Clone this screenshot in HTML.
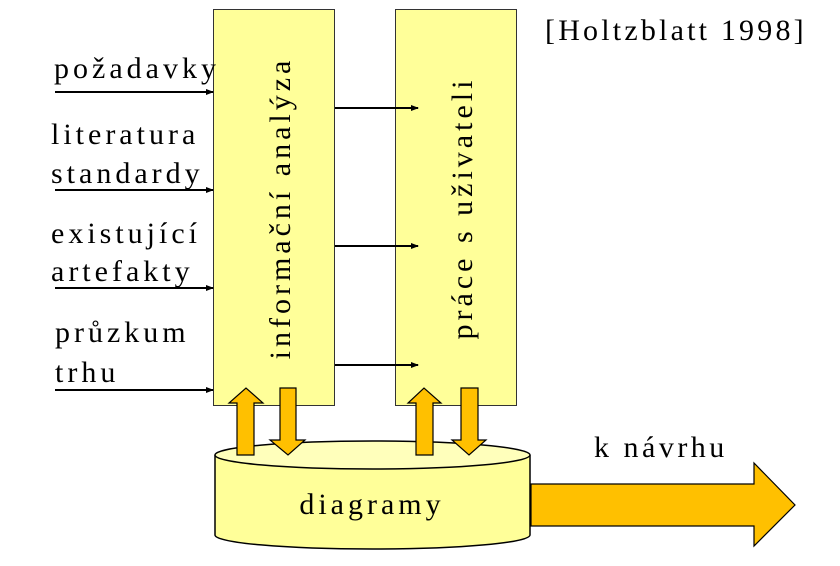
<!DOCTYPE html>
<html><head><meta charset="utf-8"><style>
html,body{margin:0;padding:0;background:#fff;width:840px;height:566px;overflow:hidden}
</style></head><body>
<svg width="840" height="566" viewBox="0 0 840 566" xmlns="http://www.w3.org/2000/svg">
<defs><marker id="a" markerWidth="8" markerHeight="8" refX="7" refY="4" orient="auto" markerUnits="userSpaceOnUse"><path d="M0,1 L8,4 L0,7Z" fill="#000"/></marker></defs>
<rect x="213.5" y="9.5" width="121" height="396" fill="#ffff99" stroke="#333" stroke-width="1"/>
<rect x="395.5" y="9.5" width="121" height="396" fill="#ffff99" stroke="#333" stroke-width="1"/>
<g stroke="#000" stroke-width="2" marker-end="url(#a)">
<line x1="55" y1="92" x2="213" y2="92"/>
<line x1="55" y1="190" x2="213" y2="190"/>
<line x1="55" y1="288" x2="213" y2="288"/>
<line x1="55" y1="390" x2="213" y2="390"/>
<line x1="335" y1="108" x2="418" y2="108"/>
<line x1="335" y1="246" x2="418" y2="246"/>
<line x1="335" y1="365" x2="418" y2="365"/>
</g>
<path d="M215,455 L215,535 A157,14 0 0 0 530,535 L530,455" fill="#ffff99" stroke="#000" stroke-width="1.5"/>
<ellipse cx="372.5" cy="455" rx="157.5" ry="14" fill="#ffffbb" stroke="#000" stroke-width="1.5"/>
<path d="M531,484 L754,484 L754,463 L795,505 L754,546 L754,526 L531,526Z" fill="#ffc000" stroke="#000" stroke-width="1.2"/>
<g fill="#ffc000" stroke="#000" stroke-width="1.2">
<path d="M237,455 L237,403 L229,403 L246,388 L263,403 L254,403 L254,455Z"/>
<path d="M280,388 L296,388 L296,440 L305,440 L288,455 L270,440 L280,440Z"/>
<path d="M416,455 L416,403 L408,403 L424,388 L441,403 L433,403 L433,455Z"/>
<path d="M461,388 L478,388 L478,440 L486,440 L469,455 L452,440 L461,440Z"/>
</g>
<g style="font-family:'Liberation Serif','DejaVu Serif',serif;font-size:30px;letter-spacing:4px" fill="#000">
<text x="54" y="78">požadavky</text>
<text x="51" y="144">literatura</text>
<text x="51" y="183">standardy</text>
<text x="51" y="243">existující</text>
<text x="51" y="281">artefakty</text>
<text x="55" y="342">průzkum</text>
<text x="55" y="382">trhu</text>
<text x="545" y="40" style="letter-spacing:3.2px">[Holtzblatt 1998]</text>
<text x="594" y="457" style="letter-spacing:3.5px">k návrhu</text>
<text x="372" y="514" text-anchor="middle">diagramy</text>
<text transform="translate(290,208) rotate(-90)" text-anchor="middle">informační analýza</text>
<text transform="translate(472,208) rotate(-90)" text-anchor="middle">práce s uživateli</text>
</g>
</svg>
</body></html>
